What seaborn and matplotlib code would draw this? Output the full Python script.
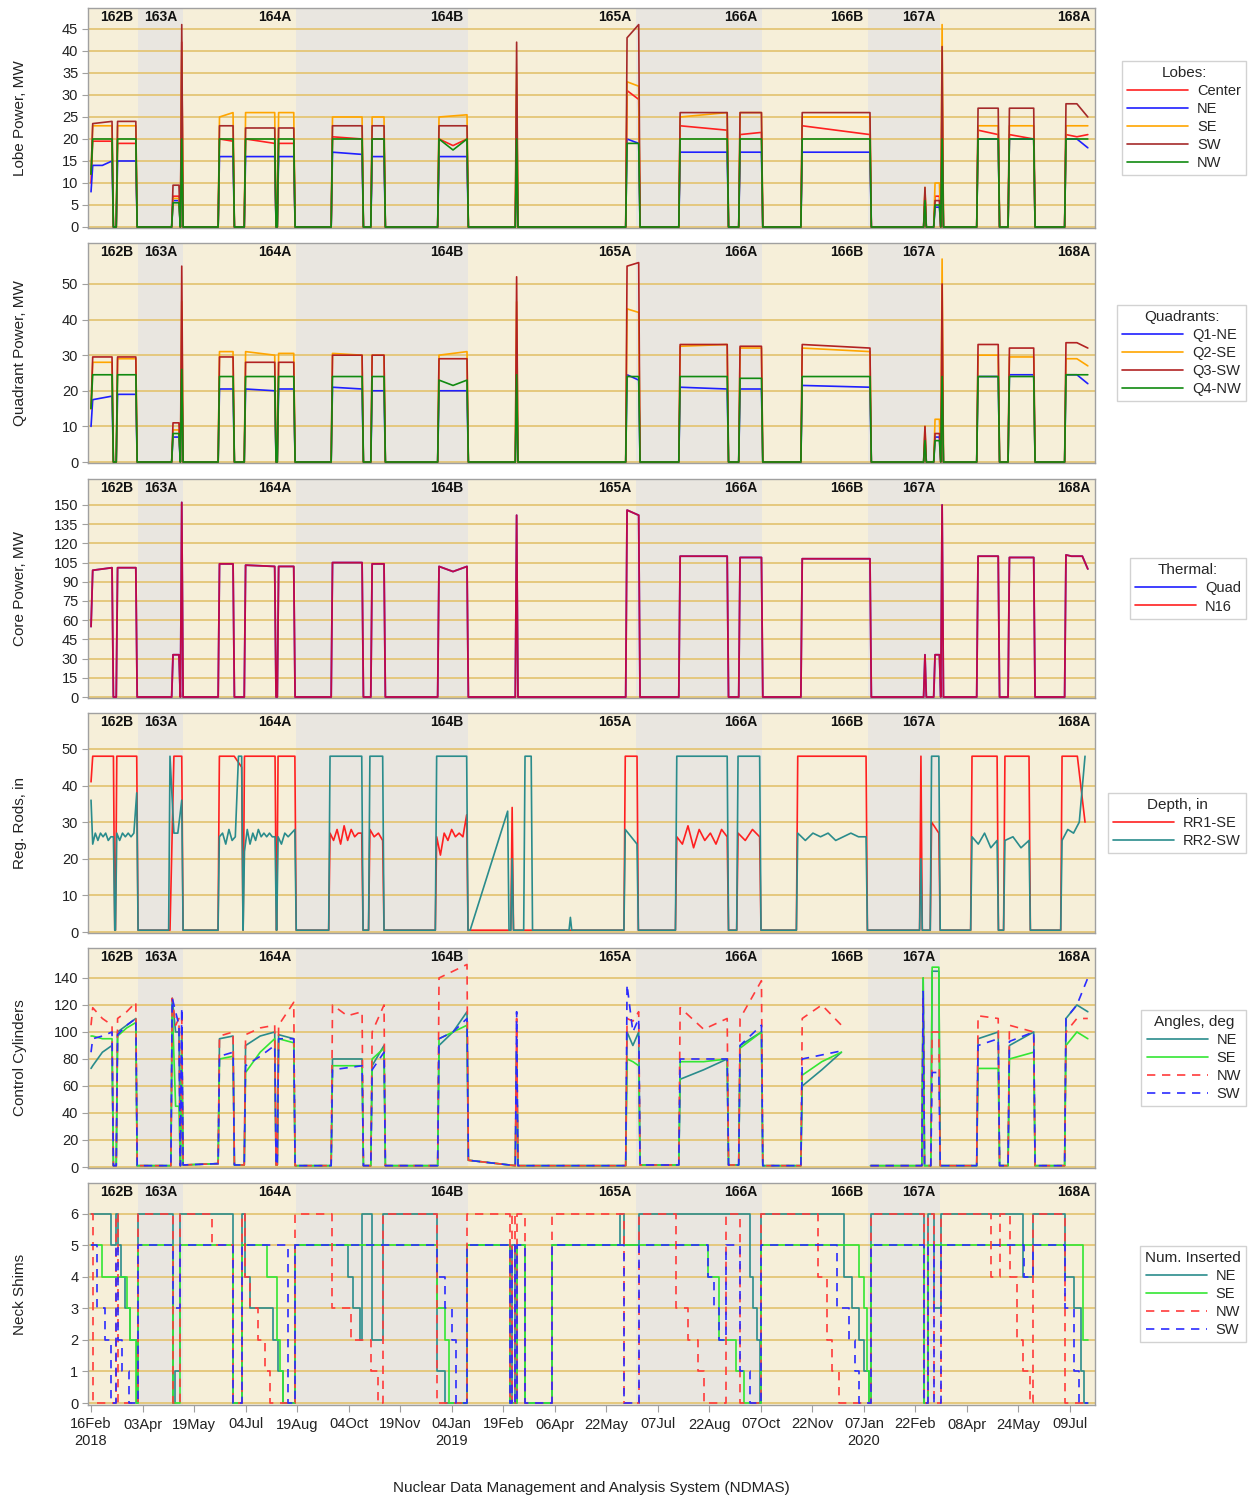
import numpy as np
import pandas as pd
import matplotlib
matplotlib.use("Agg")
import matplotlib.pyplot as plt
import matplotlib.dates as mdates
from matplotlib.lines import Line2D
import seaborn as sns

sns.set_theme(style="white")
plt.rcParams["font.family"] = ["Liberation Sans", "DejaVu Sans"]

# ---------------------------------------------------------------- time base
T0 = pd.Timestamp("2018-02-16")          # day 0 of the record
XLIM = ("2018-02-13 07:00", "2020-07-31 10:00")

# operating cycles (shaded bands) and their edges
CYCLES = ["162B", "163A", "164A", "164B", "165A", "166A", "166B", "167A", "168A"]
BAND_EDGES = ["2018-02-13 07:00", "2018-03-30", "2018-05-09", "2018-08-18", "2019-01-19",
              "2019-06-18", "2019-10-08", "2020-01-11", "2020-03-15", "2020-07-31 10:00"]

# ---------------------------------------------------------------- power runs (days since T0)
PWR_ON = [1.5, 23.7, 73.2, 81.0, 114.7, 138, 167.5, 215.6, 251, 310.7, 380, 478.6, 526,
          579.5, 635, 744.6, 753.6, 759.9, 792, 820, 870.5]
PWR_OFF = [18.75, 40, 78.5, 81.0, 126.8, 164, 181, 242, 261.6, 335.7, 380, 489, 568,
           598.6, 695.5, 744.6, 757.5, 759.9, 810, 841.7, 890]

# lobe power, MW (levels read across each run)
LOBE_CENTER = [[19.5], [19], [7], [42], [20, 19.5], [20, 19], [19], [20.5, 20], [20],
               [20, 18.5, 20], [30], [31, 29], [23, 22], [21, 21.5], [23, 21], [8], [7],
               [30], [22, 21], [21, 20], [21, 20.5, 21]]
LOBE_NE = [[14, 14, 15], [15], [6], [18], [16], [16], [16], [17, 16.5], [16], [16], [18],
           [20, 19], [17], [17], [17], [7], [4.5], [20], [20], [20], [20, 20, 18]]
LOBE_SE = [[23], [23], [6.5], [40], [25, 26], [26], [26], [25], [25], [25, 25.5], [35],
           [33, 32], [25, 26], [26], [25], [9], [10], [46], [23], [23], [23]]
LOBE_SW = [[23.5, 24], [24], [9.5], [46], [23], [22.5], [22.5], [23], [23], [23], [42],
           [43, 46], [26], [26], [26], [9], [6], [41], [27], [27], [28, 28, 25]]
LOBE_NW = [[20], [20], [5.5], [20], [20], [20], [20], [20], [20], [20, 17.5, 20], [20],
           [19], [20], [20], [20], [6], [5], [20], [20], [20], [20]]
LOBE_LEAD = [10, 8, 12, 12, 12]

# quadrant power, MW
QUAD_NE = [[17.5, 18.5], [19], [7], [25], [20.5], [20.5, 20], [20.5], [21, 20.5], [20], [20],
           [22], [24.5, 23], [21, 20.5], [20.5], [21.5, 21], [8], [7], [24], [24], [24.5],
           [24.5, 24.5, 22]]
QUAD_SE = [[28], [29], [9], [45], [31], [31, 30], [30.5], [30.5, 30], [30], [30, 31], [45],
           [43, 42], [32.5, 33], [32], [32, 31], [10], [12], [57], [30], [29.5], [29, 29, 27]]
QUAD_SW = [[29.5], [29.5], [11], [55], [29.5], [28], [28], [30], [30], [29], [52], [55, 56],
           [33], [32.5], [33, 32], [10], [8], [50], [33], [32], [33.5, 33.5, 32]]
QUAD_NW = [[24.5], [24.5], [8], [26], [24], [24], [24], [24], [24], [23, 21.5, 23], [24.5],
           [24], [24], [23.5], [24], [6], [6], [24], [24], [24], [24.5]]
QUAD_LEAD = [10, 15, 15, 15]

# core thermal power, MW
CORE_QUAD = [[99, 101], [101], [33], [152], [104], [103, 102], [102], [105], [104],
             [102, 98, 102], [142], [146, 142], [110], [109], [108], [33], [33], [150],
             [110], [109], [111, 110, 110, 110, 100]]
CORE_N16 = [[99, 101], [101], [33], [152], [104], [103, 102], [102], [105], [104],
            [102, 98, 102], [142], [146, 142], [110], [109], [108], [33], [33], [150],
            [110], [109], [111, 110, 110, 110, 100]]
CORE_LEAD = 55

# regulating rod depth, in
RR_ON = [1.5, 23, 70.5, 114.6, 137, 167, 213.4, 249, 308.6, 338.5, 376, 387.5, 428, 477,
         523, 577.7, 631, 741, 750.5, 786.6, 816, 867]
RR_OFF = [20, 40.8, 81, 134.5, 164.3, 182, 241.7, 260.4, 335.4, 372, 376, 393, 428, 487.5,
          568, 597, 692, 741, 757, 809, 837.5, 887.5]
RR1_SE = [[48], [48], [0.5, 48, 48, 48], [48, 48, 48, 45], [48], [48],
          [27, 25, 28, 24, 29, 25, 28, 26, 27, 27], [28, 26, 27, 25],
          [26, 21, 27, 25, 28, 26, 27, 26, 32], [0.5], [34], [0.5], [0.5], [48],
          [26, 24, 29, 23, 28, 25, 27, 24, 28, 26], [27, 25, 28, 26], [48], [48], [30, 27],
          [48], [48], [48, 48, 48, 30]]
RR2_SW = [[24, 27, 25, 27, 26, 27, 25, 26, 26], [27, 25, 27, 26, 27, 26, 27, 38],
          [48, 27, 27, 36], [26, 27, 24, 28, 25, 26, 48, 48],
          [22, 28, 24, 27, 25, 28, 26, 27, 26, 27, 26, 26], [26, 24, 27, 26, 27, 28],
          [48], [48], [48], [0.5, 33], [20], [48], [4], [28, 24], [48], [48],
          [27, 25, 27, 26, 27, 25, 26, 27, 26, 26], [20], [48], [26, 24, 27, 23, 25],
          [25, 26, 23, 25], [25, 28, 27, 30, 48]]
RR_LEAD = [41, 36]

# control cylinder angles, deg
ANG_ON = [1.5, 23.7, 72.5, 81, 114.7, 138, 167.5, 215.6, 251, 310.7, 380, 478.6, 526, 579.5,
          635, 743, 751, 792, 820, 870.5]
ANG_OFF = [18.75, 40, 78.5, 81, 126.8, 164, 181, 242, 261.6, 335.7, 380, 489, 568, 598.6,
           670, 743, 757, 810, 841.7, 890]
ANG_BASE = [(1, 1), (1, 1), (1, 1), (1.5, 2.5), (1.5, 1.5), (1.5, 1.5), (1, 1), (1, 1),
            (1, 1), (5, 1), (1, 1), (1.5, 1.5), (1.5, 1.5), (1, 1), (1, 1), (1, 1), (1, 1),
            (1, 1), (1, 1)]
ANG_GAPS = [(670.2, 696)]
ANG_NE = [[75, 85, 90], [100, 105, 110], [125, 100, 100], [100], [95, 97], [90, 97, 100],
          [98, 95], [80, 80], [75, 90], [90, 100, 115], [85], [100, 90, 100], [65, 72, 80],
          [90, 100], [60, 72, 85], [140], [145], [95, 100], [90, 100], [110, 120, 115]]
ANG_SE = [[97, 95, 95], [97, 103, 107], [120, 45, 45], [100], [80, 82], [70, 85, 95],
          [95, 92], [75, 75], [80, 88], [95, 100, 105], [85], [80, 78, 75], [78, 78, 80],
          [88, 100], [68, 78, 85], [140], [148], [73, 73], [80, 85], [90, 100, 95]]
ANG_NW = [[118, 110, 105], [110, 115, 122], [125, 105, 110], [110], [97, 100],
          [98, 103, 105], [105, 122], [120, 112, 115], [100, 120], [140, 145, 150], [110],
          [110, 108, 115], [118, 102, 110], [110, 138], [110, 120, 105], [125], [100],
          [112, 110], [105, 100], [100, 110, 110]]
ANG_SW = [[95, 97, 100], [98, 105, 110], [125, 115, 105], [118], [82, 85], [75, 82, 90],
          [95, 95], [72, 75], [72, 85], [95, 100, 110], [115], [135, 100, 110], [80, 80, 80],
          [90, 105], [80, 83, 86], [130], [70], [90, 95], [93, 100], [110, 120, 140]]
ANG_LEAD = [73, 97, 105, 85]

# neck shims inserted (step changes: day, count)
SHIM_NE_T = [0, 17.9, 22, 24.4, 26.8, 30.4, 34.8, 40.8, 42.3, 73.5, 75, 79.5, 127, 134.5,
             137.5, 141.9, 162.8, 167.3, 171.7, 182.1, 229.8, 234.2, 240.2, 241.7, 250.6, 261,
             308.6, 316, 335.3, 374, 376, 378.6, 380, 387.5, 411.3, 472, 475.5, 489, 588, 591,
             595, 597, 598.5, 672, 679.5, 685.5, 690, 694.5, 696, 744, 747, 753, 759, 832.5,
             841.5, 870, 877.5, 883.5, 887, 890]
SHIM_NE_N = [6, 5, 6, 5, 4, 3, 2, 0, 6, 0, 1, 6, 0, 6, 4, 3, 2, 1, 0, 5, 4, 3, 2, 6, 2, 6,
             1, 0, 5, 0, 5, 0, 5, 0, 5, 6, 5, 6, 4, 3, 2, 0, 6, 4, 3, 2, 1, 0, 6, 0, 6, 3, 6,
             4, 6, 4, 3, 1, 0, 0]
SHIM_SE_T = [0, 9.5, 31.8, 34.8, 40, 42.3, 73.5, 79.5, 127, 134.5, 157, 166, 169, 171.7,
             182.1, 308.6, 316, 320, 335.3, 374, 380, 387.5, 411.3, 550.5, 561, 576, 583, 588,
             598.5, 685.5, 690, 692.5, 694.5, 696, 744, 747, 886, 890]
SHIM_SE_N = [5, 4, 3, 2, 0, 5, 0, 5, 0, 5, 4, 2, 1, 0, 5, 3, 2, 0, 5, 0, 5, 0, 5, 4, 2, 1,
             0, 0, 5, 4, 3, 1, 0, 5, 0, 5, 2, 2]
SHIM_NW_T = [0, 1.5, 22, 24.4, 42.3, 73.5, 79.5, 108, 127, 134.5, 137.5, 142, 149, 155, 160,
             182.1, 215, 232, 250, 256, 261, 308.6, 335.3, 374, 376, 378.6, 380, 387.5, 411.3,
             475.5, 489, 522, 525, 533, 542, 547, 567, 579, 598.5, 649.5, 657, 661.5, 667.5,
             673.5, 696, 744, 747, 753, 759, 804, 811.5, 820.5, 826.5, 832.5, 838.5, 841.5,
             870, 890]
SHIM_NW_N = [6, 0, 6, 0, 6, 0, 6, 5, 0, 6, 4, 3, 2, 1, 0, 6, 3, 2, 1, 0, 6, 0, 6, 0, 6, 0,
             6, 0, 6, 0, 6, 3, 3, 2, 1, 0, 6, 0, 6, 4, 2, 1, 0, 0, 6, 0, 6, 0, 6, 4, 6, 4, 2,
             1, 0, 6, 0, 0]
SHIM_SW_T = [0, 5, 12.5, 18, 22, 24.4, 28, 34, 42.3, 73.5, 79.5, 127, 134.5, 176, 182.1,
             308.6, 316, 322, 326, 335.3, 374, 376, 378.6, 380, 387.5, 411.3, 475.5, 489,
             550.5, 556.5, 561, 567, 579, 588, 598.5, 666, 676.5, 682, 685.5, 696, 744, 747,
             753, 759, 833, 841.5, 870, 877.5, 882, 890]
SHIM_SW_N = [5, 3, 2, 0, 5, 2, 1, 0, 5, 3, 5, 0, 5, 0, 5, 4, 3, 2, 0, 5, 0, 5, 0, 5, 0, 5,
             0, 5, 4, 3, 2, 5, 1, 0, 5, 3, 2, 1, 0, 5, 0, 5, 0, 5, 4, 5, 3, 1, 0, 0]

# ---------------------------------------------------------------- colours
RED, BLUE, ORANGE, BROWN, GREEN = "#FF2020", "#1F1FFF", "#FFA500", "#A52A2A", "#118A11"
TEAL, LIME = "#2A8C8C", "#33E633"
DASH = (0, (5, 4))


def as_time(days):
    return T0 + pd.to_timedelta(np.asarray(days, dtype=float), unit="D")


def trace(on, off, levels, base=0.0, lead=None, ramp=1.2):
    """Join the run plateaus with short ramps down to / up from the shutdown level."""
    n = len(on)
    pairs = [(base, base)] * (n - 1) if np.isscalar(base) else list(base)
    xs, ys = [], []
    for i in range(n):
        a, b, lv = on[i], off[i], levels[i]
        if i == 0:
            if lead is not None:
                xs.append(a - 1.5)
                ys.append(lead)
        else:
            xs.append(a - ramp)
            ys.append(pairs[i - 1][1])
        if len(lv) == 1:
            xs += [a, b]
            ys += [lv[0], lv[0]]
        else:
            xs += list(np.linspace(a, b, len(lv)))
            ys += list(lv)
        if i < n - 1:
            xs.append(b + ramp)
            ys.append(pairs[i][0])
    return np.array(xs, dtype=float), np.array(ys, dtype=float)


def cut(xs, ys, gaps, base):
    """Split a trace where the record has no data."""
    segs, lo, resume = [], -np.inf, None
    for g0, g1 in list(gaps) + [(np.inf, None)]:
        m = (xs >= lo) & (xs <= g0)
        sx, sy = list(xs[m]), list(ys[m])
        if resume is not None:
            sx, sy = [resume] + sx, [base] + sy
        segs.append((np.array(sx), np.array(sy)))
        lo, resume = g1, g1
    return segs


def draw(ax, x, y, color, lw=1.2, ls="-", steps=False, alpha=1.0):
    sns.lineplot(x=as_time(x), y=y, ax=ax, color=color, lw=lw, linestyle=ls, alpha=alpha,
                 estimator=None, sort=False, legend=False, zorder=3,
                 drawstyle="steps-post" if steps else "default")


# ---------------------------------------------------------------- figure layout
W, H = 1255, 1498
fig = plt.figure(figsize=(W / 100, H / 100), dpi=100)
PANEL_PX = [(8, 228), (243, 463), (479, 698), (713, 933), (948, 1168), (1183, 1405)]
YLIMS = [(-0.23, 49.77), (-0.28, 61.5), (-0.78, 170.3), (-0.27, 59.8), (-0.74, 162.2),
         (-0.063, 6.98)]
YTICKS = [range(0, 46, 5), range(0, 51, 10), range(0, 151, 15), range(0, 51, 10),
          range(0, 141, 20), range(0, 7)]
YLABELS = ["Lobe Power, MW", "Quadrant Power, MW", "Core Power, MW", "Reg. Rods, in",
           "Control Cylinders", "Neck Shims"]

axes = []
for top, bot in PANEL_PX:
    ax = fig.add_axes([88 / W, 1 - bot / H, 1007 / W, (bot - top) / H],
                      sharex=axes[0] if axes else None)
    axes.append(ax)

edges = [pd.Timestamp(e) for e in BAND_EDGES]
for k, ax in enumerate(axes):
    for i, name in enumerate(CYCLES):
        ax.axvspan(edges[i], edges[i + 1], color="#F6EFD9" if i % 2 == 0 else "#E9E6E0",
                   zorder=0, lw=0)
        ax.annotate(name, xy=(mdates.date2num(edges[i + 1]), 1.0),
                    xycoords=("data", "axes fraction"), xytext=(-5, -9),
                    textcoords="offset pixels", ha="right", va="center",
                    fontsize=10, fontweight="bold", color="#111111", zorder=6)
    ax.set_ylim(*YLIMS[k])
    ax.set_yticks(list(YTICKS[k]))
    ax.set_axisbelow("line")
    ax.yaxis.grid(True, color="#E4C576", lw=1.3)
    ax.xaxis.grid(False)
    for s in ax.spines.values():
        s.set_color("#A0A0A0")
        s.set_linewidth(1.0)
    ax.tick_params(axis="y", left=True, length=4, width=0.8, color="#A0A0A0",
                   labelsize=10.5, labelcolor="#222222", pad=3)
    ax.set_ylabel(YLABELS[k], fontsize=11, color="#222222")
    ax.yaxis.set_label_coords(-(88 - 27) / 1007, 0.5)

# ---------------------------------------------------------------- panel 1: lobes
ax = axes[0]
for lv, lead, c in zip([LOBE_CENTER, LOBE_NE, LOBE_SE, LOBE_SW, LOBE_NW], LOBE_LEAD,
                       [RED, BLUE, ORANGE, BROWN, GREEN]):
    x, y = trace(PWR_ON, PWR_OFF, lv, 0.0, lead)
    draw(ax, x, y, c)

# ---------------------------------------------------------------- panel 2: quadrants
ax = axes[1]
for lv, lead, c in zip([QUAD_NE, QUAD_SE, QUAD_SW, QUAD_NW], QUAD_LEAD,
                       [BLUE, ORANGE, "#B22222", GREEN]):
    x, y = trace(PWR_ON, PWR_OFF, lv, 0.0, lead)
    draw(ax, x, y, c)

# ---------------------------------------------------------------- panel 3: core power
ax = axes[2]
x, y = trace(PWR_ON, PWR_OFF, CORE_QUAD, 0.0, CORE_LEAD)
draw(ax, x, y, BLUE, lw=1.3)
x, y = trace(PWR_ON, PWR_OFF, CORE_N16, 0.0, CORE_LEAD)
draw(ax, x, y, "#FF0000", lw=1.3, alpha=0.72)

# ---------------------------------------------------------------- panel 4: regulating rods
ax = axes[3]
for lv, lead, c in zip([RR1_SE, RR2_SW], RR_LEAD, [RED, TEAL]):
    x, y = trace(RR_ON, RR_OFF, lv, 0.5, lead)
    draw(ax, x, y, c)

# ---------------------------------------------------------------- panel 5: control cylinders
ax = axes[4]
for lv, lead, c, ls in zip([ANG_NE, ANG_SE, ANG_NW, ANG_SW], ANG_LEAD,
                           [TEAL, LIME, "#FF3B3B", "#2B2BFF"], ["-", "-", DASH, DASH]):
    x, y = trace(ANG_ON, ANG_OFF, lv, ANG_BASE, lead)
    for sx, sy in cut(x, y, ANG_GAPS, 1.0):
        draw(ax, sx, sy, c, ls=ls)

# ---------------------------------------------------------------- panel 6: neck shims
ax = axes[5]
for t, n, c, ls in zip([SHIM_NE_T, SHIM_SE_T, SHIM_NW_T, SHIM_SW_T],
                       [SHIM_NE_N, SHIM_SE_N, SHIM_NW_N, SHIM_SW_N],
                       [TEAL, LIME, "#FF3B3B", "#2B2BFF"], ["-", "-", DASH, DASH]):
    draw(ax, t, np.array(n, dtype=float), c, ls=ls, steps=True)

# ---------------------------------------------------------------- legends
LEGENDS = [
    ("Lobes:", ["Center", "NE", "SE", "SW", "NW"], [RED, BLUE, ORANGE, BROWN, GREEN],
     ["-"] * 5),
    ("Quadrants:", ["Q1-NE", "Q2-SE", "Q3-SW", "Q4-NW"], [BLUE, ORANGE, "#B22222", GREEN],
     ["-"] * 4),
    ("Thermal:", ["Quad", "N16"], [BLUE, RED], ["-"] * 2),
    ("Depth, in", ["RR1-SE", "RR2-SW"], [RED, TEAL], ["-"] * 2),
    ("Angles, deg", ["NE", "SE", "NW", "SW"], [TEAL, LIME, "#FF3B3B", "#2B2BFF"],
     ["-", "-", DASH, DASH]),
    ("Num. Inserted", ["NE", "SE", "NW", "SW"], [TEAL, LIME, "#FF3B3B", "#2B2BFF"],
     ["-", "-", DASH, DASH]),
]
for ax, (title, labels, colors, styles), (top, bot) in zip(axes, LEGENDS, PANEL_PX):
    handles = [Line2D([], [], color=c, lw=1.2, linestyle=s) for c, s in zip(colors, styles)]
    leg = ax.legend(handles, labels, title=title, loc="center right",
                    bbox_to_anchor=(1246 / W, 1 - (top + bot) / 2 / H),
                    bbox_transform=fig.transFigure, frameon=True, fancybox=False,
                    edgecolor="#D2D2D2", framealpha=1.0, fontsize=10.5, title_fontsize=11,
                    handlelength=4.2, handletextpad=0.6, labelspacing=0.28, borderpad=0.35,
                    borderaxespad=0)
    leg.get_frame().set_linewidth(1.0)

# ---------------------------------------------------------------- time axis
axes[0].set_xlim(pd.Timestamp(XLIM[0]), pd.Timestamp(XLIM[1]))
ticks = pd.date_range("2018-02-16", periods=20, freq="46D")
labels, seen = [], set()
for d in ticks:
    lab = d.strftime("%d%b")
    if d.year not in seen:
        lab += "\n" + str(d.year)
        seen.add(d.year)
    labels.append(lab)
for ax in axes[:-1]:
    ax.tick_params(axis="x", bottom=False, labelbottom=False)
    ax.set_xlabel("")
axes[-1].set_xticks(list(ticks))
axes[-1].set_xticklabels(labels)
axes[-1].tick_params(axis="x", bottom=True, length=5, width=0.8, color="#A0A0A0",
                     labelsize=10.5, labelcolor="#222222", pad=4)
axes[-1].set_xlabel("")

fig.text(591.5 / W, 1 - 1488 / H, "Nuclear Data Management and Analysis System (NDMAS)",
         ha="center", va="center", fontsize=11, color="#222222")

fig.savefig("out.png", dpi=100)
